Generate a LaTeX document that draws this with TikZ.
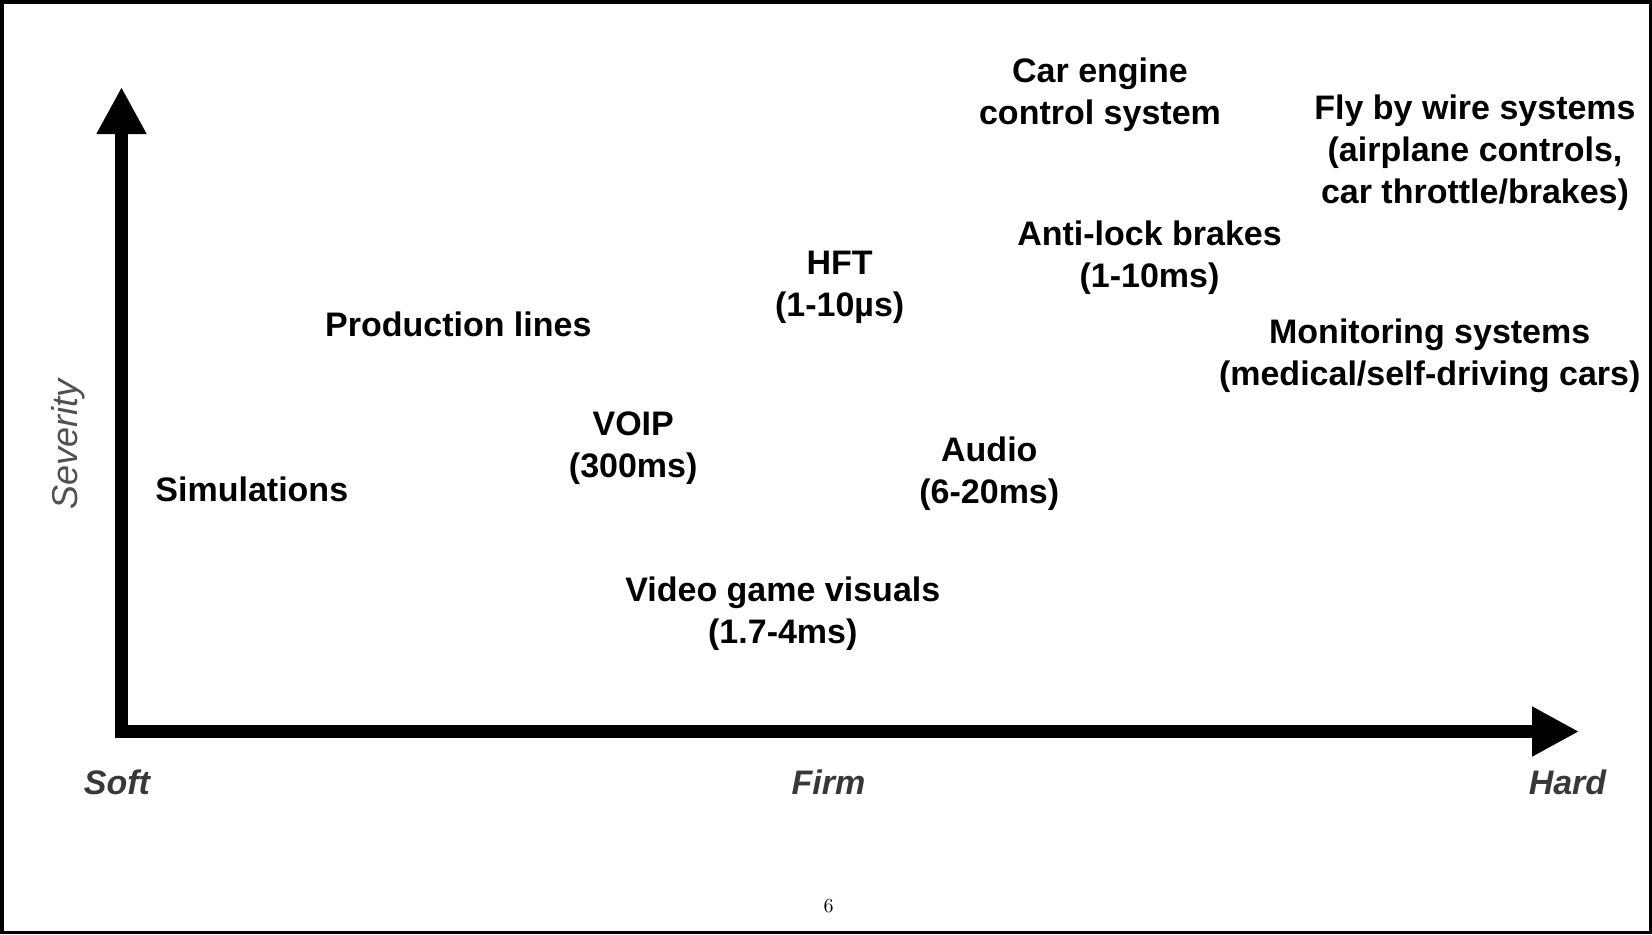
\documentclass[tikz,border=0pt]{standalone}
\usepackage{fontspec}
\setsansfont{Liberation Sans}
\usetikzlibrary{arrows.meta}
\definecolor{axlab}{HTML}{383838}
\definecolor{sevlab}{HTML}{505050}
\tikzset{
  item/.style={font=\sffamily\bfseries\fontsize{17}{21}\selectfont, align=center, inner sep=0pt, text=black},
  axislabel/.style={font=\sffamily\bfseries\itshape\fontsize{17}{21}\selectfont, inner sep=0pt, text=axlab},
  sevlabel/.style={font=\sffamily\itshape\fontsize{18}{21}\selectfont, inner sep=0pt, text=sevlab, rotate=90},
  axisline/.style={line width=6.5pt, line join=miter, {Triangle[length=23.5pt,width=23.5pt]}-{Triangle[length=23.5pt,width=23.5pt]}},
}
\begin{document}
\begin{tikzpicture}[x=0.5pt,y=-0.5pt]
\useasboundingbox (0,0) rectangle (1652,934);
\fill[white] (0,0) rectangle (1652,934);
\draw[line width=1.75pt] (1.75,1.75) rectangle (1650.25,932.25);

\coordinate (ytip) at (121.5,87);
\coordinate (origin) at (121.5,731.5);
\coordinate (xtip) at (1579,731.5);
\draw[axisline] (ytip) -- (origin) -- (xtip);

\node[item] (car) at (1100,95) {Car engine\\control system};
\node[item] (fly) at (1475,153) {Fly by wire systems\\(airplane controls,\\car throttle/brakes)};
\node[item] (abs) at (1149.5,258) {Anti-lock brakes\\(1-10ms)};
\node[item] (hft) at (839.7,287.5) {HFT\\(1-10µs)};
\node[item] (prod) at (458.3,324.5) {Production lines};
\node[item] (mon) at (1429.7,356) {Monitoring systems\\(medical/self-driving cars)};
\node[item] (voip) at (633.2,448.6) {VOIP\\(300ms)};
\node[item] (audio) at (989.3,474) {Audio\\(6-20ms)};
\node[item] (sim) at (251.8,488.9) {Simulations};
\node[item] (video) at (782.8,614) {Video game visuals\\(1.7-4ms)};

\node[axislabel] (soft) at (117,782) {Soft};
\node[axislabel] (firm) at (828.5,782) {Firm};
\node[axislabel] (hard) at (1567.5,782) {Hard};
\node[sevlabel] (sev) at (68.5,444.6) {Severity};

\node[font=\rmfamily\fontsize{10}{12}\selectfont, inner sep=0pt] (page) at (828.5,906.5) {6};
\end{tikzpicture}
\end{document}
